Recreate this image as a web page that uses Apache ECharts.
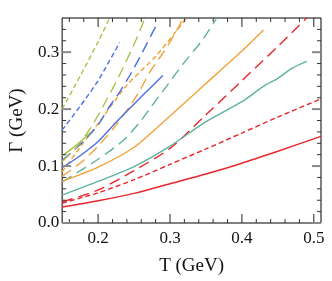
<!DOCTYPE html>
<html>
<head>
<meta charset="utf-8">
<script src="https://cdn.jsdelivr.net/npm/echarts@6/dist/echarts.min.js"></script>
<style>html,body{margin:0;padding:0;background:#fff}#c{width:332px;height:281px}</style>
</head>
<body>
<div id="c"></div>
<script>
// Axis ranges and tick values
const X_MIN = 0.15, X_MAX = 0.51, Y_MIN = 0, Y_MAX = 0.36;
const xMajor = [0.2, 0.3, 0.4, 0.5];
const xMinor = [0.16, 0.18, 0.22, 0.24, 0.26, 0.28, 0.32, 0.34, 0.36, 0.38, 0.42, 0.44, 0.46, 0.48];
const yMajor = [0.0, 0.1, 0.2, 0.3];
const yMinor = [0.02, 0.04, 0.06, 0.08, 0.12, 0.14, 0.16, 0.18, 0.22, 0.24, 0.26, 0.28, 0.32, 0.34];

// Red
const redSolidT = [0.15, 0.2, 0.25, 0.3, 0.35, 0.4, 0.45, 0.51];
const redSolidG = [0.028, 0.039, 0.052, 0.069, 0.086, 0.105, 0.126, 0.152];
const redShortT = [0.15, 0.2, 0.25, 0.3, 0.35, 0.4, 0.45, 0.51];
const redShortG = [0.035, 0.053, 0.076, 0.103, 0.130, 0.158, 0.186, 0.218];
const redLongT = [0.15, 0.2, 0.25, 0.3, 0.35, 0.4, 0.45, 0.49];
const redLongG = [0.037, 0.058, 0.092, 0.131, 0.19, 0.25, 0.31, 0.36];
// Teal
const tealSolidT = [0.15, 0.2, 0.25, 0.3, 0.35, 0.4, 0.43, 0.45, 0.47, 0.49];
const tealSolidG = [0.049, 0.073, 0.099, 0.135, 0.178, 0.213, 0.240, 0.254, 0.272, 0.284];
const tealLongT = [0.15, 0.2, 0.235, 0.258, 0.272, 0.291, 0.318, 0.346, 0.365];
const tealLongG = [0.072, 0.112, 0.145, 0.177, 0.201, 0.233, 0.279, 0.323, 0.36];
// Orange
const orangeSolidT = [0.15, 0.2, 0.25, 0.3, 0.35, 0.4, 0.43];
const orangeSolidG = [0.073, 0.098, 0.133, 0.188, 0.245, 0.302, 0.339];
const orangeShortT = [0.15, 0.175, 0.202, 0.24, 0.281, 0.323];
const orangeShortG = [0.09, 0.133, 0.178, 0.242, 0.294, 0.36];
const orangeLongT = [0.15, 0.175, 0.2, 0.225, 0.254, 0.272, 0.291, 0.309, 0.318];
const orangeLongG = [0.082, 0.105, 0.135, 0.172, 0.224, 0.265, 0.30, 0.337, 0.36];
// Blue
const blueSolidT = [0.15, 0.175, 0.2, 0.225, 0.25, 0.27, 0.29];
const blueSolidG = [0.097, 0.118, 0.143, 0.177, 0.209, 0.234, 0.259];
const blueShortT = [0.15, 0.175, 0.2, 0.23];
const blueShortG = [0.163, 0.205, 0.25, 0.317];
const blueLongT = [0.15, 0.175, 0.2, 0.214, 0.23, 0.244, 0.258, 0.28];
const blueLongG = [0.11, 0.138, 0.172, 0.201, 0.23, 0.259, 0.291, 0.345];
// Yellow-green
const ygSolidT = [0.15, 0.165, 0.18, 0.19];
const ygSolidG = [0.118, 0.132, 0.148, 0.16];
const ygShortT = [0.15, 0.175, 0.2, 0.216];
const ygShortG = [0.2, 0.258, 0.318, 0.36];
const ygLongT = [0.15, 0.17, 0.19, 0.207, 0.228, 0.254, 0.265];
const ygLongG = [0.108, 0.133, 0.168, 0.205, 0.255, 0.325, 0.36];

const RED = '#e8262b', TEAL = '#5fb39c', ORANGE = '#f2a23a', BLUE = '#4a6fe0', YG = '#a9c24c';
const SHORT = [5, 3], LONG = [11, 6];
const FONT = 'Liberation Serif';

function zip(t, g) { return t.map((v, i) => [v, g[i]]); }
function ser(t, g, color, type) {
  return {
    type: 'line', data: zip(t, g), showSymbol: false, smooth: 0.25,
    lineStyle: { color: color, width: 1.4, type: type }, z: 3, silent: true
  };
}
// Inward ticks on all four sides, placed through the library's coordinate system
function tickSeries(values, dim, len, color, width) {
  return {
    type: 'custom', coordinateSystem: 'cartesian2d', clip: false, silent: true, z: 6,
    data: values.map(v => dim === 'x' ? [v, Y_MIN] : [X_MIN, v]),
    renderItem: function (params, api) {
      const v = dim === 'x' ? api.value(0) : api.value(1);
      const style = { stroke: color, lineWidth: width };
      if (dim === 'x') {
        const a = api.coord([v, Y_MIN]), b = api.coord([v, Y_MAX]);
        return { type: 'group', children: [
          { type: 'line', shape: { x1: a[0], y1: a[1], x2: a[0], y2: a[1] - len }, style: style },
          { type: 'line', shape: { x1: b[0], y1: b[1], x2: b[0], y2: b[1] + len }, style: style }
        ] };
      } else {
        const a = api.coord([X_MIN, v]), b = api.coord([X_MAX, v]);
        return { type: 'group', children: [
          { type: 'line', shape: { x1: a[0], y1: a[1], x2: a[0] + len, y2: a[1] }, style: style },
          { type: 'line', shape: { x1: b[0], y1: b[1], x2: b[0] - len, y2: b[1] }, style: style }
        ] };
      }
    }
  };
}

const chart = echarts.init(document.getElementById('c'), null, { renderer: 'canvas' });
chart.setOption({
  animation: false,
  grid: { left: 62, top: 18, width: 259, height: 207, containLabel: false,
          show: true, borderColor: '#000', borderWidth: 1, backgroundColor: 'transparent' },
  xAxis: {
    type: 'value', min: X_MIN, max: X_MAX,
    axisLine: { show: false, onZero: false }, axisTick: { show: false }, splitLine: { show: false },
    axisLabel: { customValues: xMajor, formatter: v => v.toFixed(1), fontFamily: FONT, fontSize: 17, color: '#111', margin: 7 },
    name: 'T (GeV)', nameLocation: 'middle', nameGap: 34,
    nameTextStyle: { fontFamily: FONT, fontSize: 19, color: '#111' }
  },
  yAxis: {
    type: 'value', min: Y_MIN, max: Y_MAX,
    axisLine: { show: false, onZero: false }, axisTick: { show: false }, splitLine: { show: false },
    axisLabel: { customValues: yMajor, formatter: v => v.toFixed(1), fontFamily: FONT, fontSize: 17, color: '#111', margin: 3 },
    name: 'Γ (GeV)', nameLocation: 'middle', nameGap: 27,
    nameTextStyle: { fontFamily: FONT, fontSize: 19, color: '#111' }
  },
  series: [
    ser(redSolidT, redSolidG, RED, 'solid'),
    ser(redShortT, redShortG, RED, SHORT),
    ser(redLongT, redLongG, RED, LONG),
    ser(tealSolidT, tealSolidG, TEAL, 'solid'),
    ser(tealLongT, tealLongG, TEAL, LONG),
    ser(orangeSolidT, orangeSolidG, ORANGE, 'solid'),
    ser(orangeShortT, orangeShortG, ORANGE, SHORT),
    ser(orangeLongT, orangeLongG, ORANGE, LONG),
    ser(blueSolidT, blueSolidG, BLUE, 'solid'),
    ser(blueShortT, blueShortG, BLUE, SHORT),
    ser(blueLongT, blueLongG, BLUE, LONG),
    ser(ygSolidT, ygSolidG, YG, 'solid'),
    ser(ygShortT, ygShortG, YG, SHORT),
    ser(ygLongT, ygLongG, YG, LONG),
    tickSeries(xMajor, 'x', 9, '#222', 1),
    tickSeries(xMinor, 'x', 4, '#333', 1),
    tickSeries(yMajor, 'y', 9, '#888', 2),
    tickSeries(yMinor, 'y', 4, '#333', 1)
  ]
});
</script>
</body>
</html>
